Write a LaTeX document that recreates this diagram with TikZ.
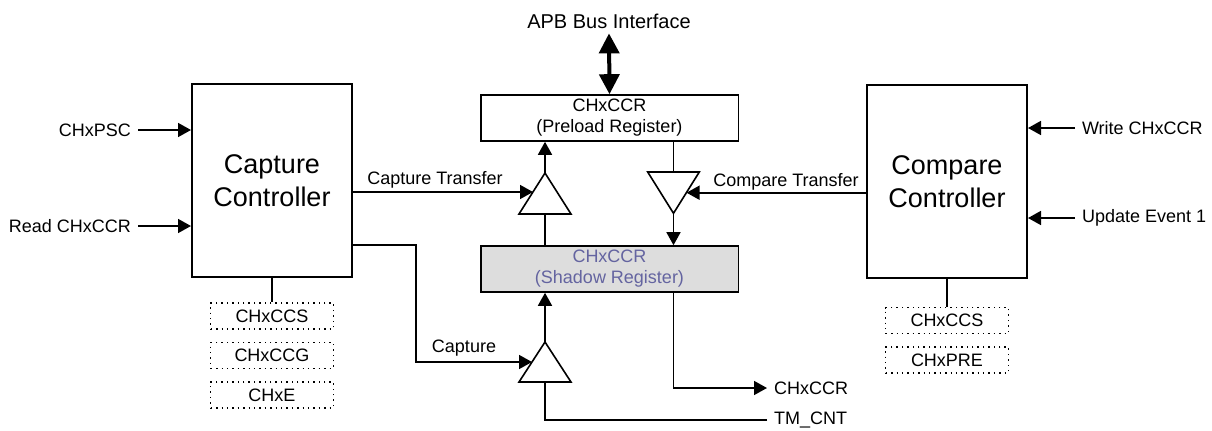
\documentclass[tikz,border=0pt]{standalone}
\usepackage{fontspec}
\setmainfont{Liberation Sans}
\usetikzlibrary{positioning,arrows.meta}
\definecolor{shadowfill}{HTML}{DDDDDD}
\definecolor{shadowtext}{HTML}{6464A0}

\begin{document}
\begin{tikzpicture}[x=0.5pt,y=-0.5pt,
  font=\fontsize{9}{10.5}\selectfont,
  ctl/.style={draw,line width=1pt,minimum width=80pt,minimum height=96.5pt,align=center,font=\fontsize{13.5}{16.5}\selectfont},
  reg/.style={draw,line width=0.8pt,minimum width=128.8pt,minimum height=23pt,inner sep=0pt,align=center},
  cfg/.style={draw,dotted,line width=0.7pt,minimum width=61.3pt,minimum height=13pt,inner sep=0pt},
  wire/.style={line width=0.8pt},
  arr/.style={wire,-{Triangle[length=6.5pt,width=7pt]}},
  bus/.style={line width=2pt,{Triangle[length=10pt,width=10pt]}-{Triangle[length=10pt,width=10pt]}},
  buf/.style={draw,line width=0.8pt,fill=white,line join=miter}]
\useasboundingbox (0,0) rectangle (1212,430);
% controllers and registers
\node[ctl] (capctl) at (272,180.5) {Capture\\Controller};
\node[ctl] (cmpctl) at (947,181.5) {Compare\\Controller};
\node[reg] (preload) at (609.5,118) {CHxCCR\\(Preload Register)};
\node[reg,fill=shadowfill,text=shadowtext] (shadow) at (609.5,269) {CHxCCR\\(Shadow Register)};
\node[cfg] (capccs) at (272,316) {CHxCCS};
\node[cfg,below=6pt of capccs] (capccg) {CHxCCG};
\node[cfg,below=6pt of capccg] (cape) {CHxE};
\node[cfg] (cmpccs) at (947,320.5) {CHxCCS};
\node[cfg,below=6pt of cmpccs] (cmppre) {CHxPRE};
\draw[wire] (capctl.south) -- (capccs.north);
\draw[wire] (cmpctl.south) -- (cmpccs.north);
% signal labels
\node[font=\fontsize{10}{12}\selectfont] (apb) at (609,21) {APB Bus Interface};
\node[anchor=east] (psc) at (138,130) {CHxPSC};
\node[anchor=east] (rdccr) at (138,226) {Read CHxCCR};
\node[anchor=west] (wrccr) at (1075,128) {Write CHxCCR};
\node[anchor=west] (upd) at (1075,218) {Update Event 1};
\node (captr) at (435,180) {Capture Transfer};
\node (cmptr) at (786,182) {Compare Transfer};
\node (caplbl) at (464,348) {Capture};
\node[anchor=west] (out) at (767,388) {CHxCCR};
\node[anchor=west] (tmcnt) at (767,420) {TM\_CNT};
% buffers
\coordinate (ctrA) at (545,173);
\coordinate (ctrB) at (545,214);
\coordinate (ctrIn) at (533,192);
\coordinate (cmpT) at (673.5,172);
\coordinate (cmpA) at (673.5,213.3);
\coordinate (cmpIn) at (686.5,192.7);
\coordinate (capA) at (545,342);
\coordinate (capB) at (545,382);
\coordinate (capIn) at (532,362);
\coordinate (capBend) at (416,245);
\draw[buf] (ctrA) -- ++(26,41) -- ++(-52,0) -- cycle;
\draw[buf] (cmpA) -- ++(-25.8,-41.3) -- ++(51.6,0) -- cycle;
\draw[buf] (capA) -- ++(26,40) -- ++(-52,0) -- cycle;
% connections
\draw[bus] ([yshift=1pt]apb.south) -- (preload.north);
\draw[arr] (psc.east) -- (psc.east -| capctl.west);
\draw[arr] (rdccr.east) -- (rdccr.east -| capctl.west);
\draw[arr] (wrccr.west) -- (wrccr.west -| cmpctl.east);
\draw[arr] (upd.west) -- (upd.west -| cmpctl.east);
\draw[arr] (capctl.east |- ctrIn) -- (ctrIn);
\draw[arr] (ctrA) -- (preload.south -| ctrA);
\draw[wire] (ctrB) -- (shadow.north -| ctrB);
\draw[wire] (preload.south -| cmpT) -- (cmpT);
\draw[arr] (cmpctl.west |- cmpIn) -- (cmpIn);
\draw[arr] (cmpA) -- (shadow.north -| cmpA);
\draw[arr] (capctl.east |- capBend) -- (capBend) |- (capIn);
\draw[arr] (capA) -- (shadow.south -| capA);
\draw[wire] (tmcnt.west) -| (capB);
\draw[arr] (shadow.south -| cmpA) |- (out.west);
\end{tikzpicture}
\end{document}
